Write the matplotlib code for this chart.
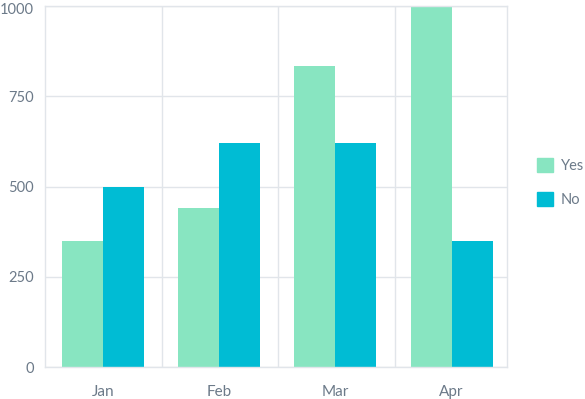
import numpy as np
import matplotlib
matplotlib.use("Agg")
import matplotlib.pyplot as plt
import matplotlib.transforms as mtransforms
from matplotlib.patches import Patch

# data
months = ["Jan", "Feb", "Mar", "Apr"]
yes_vals = [350, 440, 835, 1000]
no_vals = [500, 620, 620, 350]
y_ticks = [0, 250, 500, 750, 1000]

YES_COLOR = "#88e5c1"
NO_COLOR = "#00bcd4"
TEXT_COLOR = "#6c7a89"
GRID_COLOR = "#e1e5ea"

plt.rcParams["font.family"] = ["Lato", "DejaVu Sans"]

fig = plt.figure(figsize=(5.85, 3.99), dpi=100)
ax = fig.add_axes([45 / 585, (399 - 367.3) / 399, 462.3 / 585, 361.3 / 399])

x = np.arange(len(months))
w = 0.353
ax.bar(x - w / 2, yes_vals, width=w, color=YES_COLOR, zorder=2, label="Yes")
ax.bar(x + w / 2, no_vals, width=w, color=NO_COLOR, zorder=2, label="No")

ax.set_xlim(-0.5, len(months) - 0.52)
ax.set_ylim(0, 1000)
ax.set_yticks(y_ticks)
ax.set_xticks(x)
ax.set_xticklabels(months)
ax.set_xticks(np.arange(len(months) - 1) + 0.51, minor=True)

ax.grid(axis="y", which="major", color=GRID_COLOR, linewidth=1, zorder=0)
ax.grid(axis="x", which="minor", color=GRID_COLOR, linewidth=1, zorder=0)
ax.tick_params(axis="both", which="both", length=0, labelsize=11,
               colors=TEXT_COLOR)
ax.tick_params(axis="y", pad=8, labelsize=10.5)
ax.tick_params(axis="x", pad=13)
for s in ax.spines.values():
    s.set_color(GRID_COLOR)
    s.set_linewidth(1)

# nudge the top label so it stays inside the canvas
top_lbl = ax.get_yticklabels()[-1]
top_lbl.set_transform(top_lbl.get_transform() +
                      mtransforms.ScaledTranslation(0, -2 / 72, fig.dpi_scale_trans))

handles = [Patch(color=YES_COLOR, label="Yes"), Patch(color=NO_COLOR, label="No")]
leg = fig.legend(handles=handles, loc="center left",
                 bbox_to_anchor=(537 / 585, 1 - 182.5 / 399), frameon=False,
                 borderpad=0, borderaxespad=0,
                 fontsize=10.5, handlelength=1.1, handleheight=1.1,
                 handletextpad=0.55, labelspacing=1.3, labelcolor=TEXT_COLOR)

fig.savefig("out.png", dpi=100)
